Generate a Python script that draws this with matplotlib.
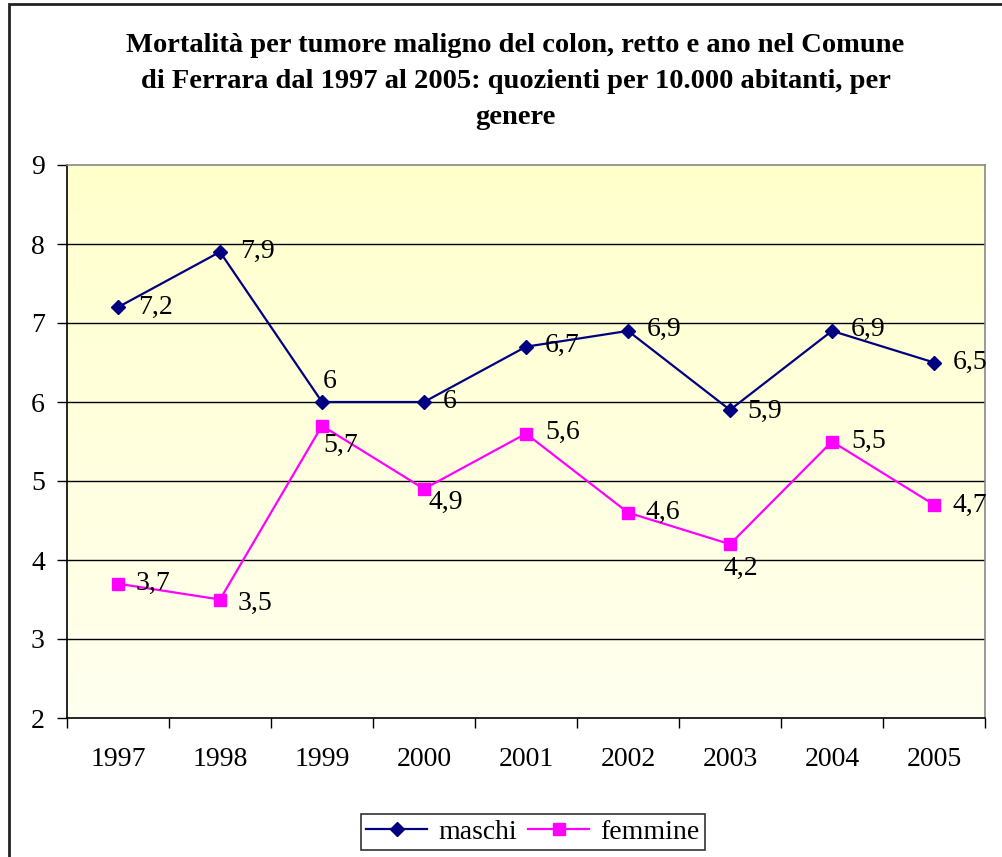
import matplotlib.pyplot as plt
import numpy as np
from matplotlib.patches import Rectangle

anni = ['1997', '1998', '1999', '2000', '2001', '2002', '2003', '2004', '2005']
maschi = [7.2, 7.9, 6.0, 6.0, 6.7, 6.9, 5.9, 6.9, 6.5]
femmine = [3.7, 3.5, 5.7, 4.9, 5.6, 4.6, 4.2, 5.5, 4.7]
lab_maschi = ['7,2', '7,9', '6', '6', '6,7', '6,9', '5,9', '6,9', '6,5']
lab_femmine = ['3,7', '3,5', '5,7', '4,9', '5,6', '4,6', '4,2', '5,5', '4,7']

# label offsets in pixels (dx, dy)
off_maschi = [(20, 0), (20, 0), (1, 21), (19, 0), (19, 1), (19, 1), (17, -2), (19, 1), (19, 0)]
off_femmine = [(18, 0), (18, -4), (1, -20), (5, -14), (19, 1), (18, 0), (-6, -24), (19, 0), (19, -1)]

plt.rcParams['font.family'] = ['Liberation Serif', 'DejaVu Serif']
FS = 20

fig = plt.figure(figsize=(10.03, 8.57), dpi=100)
ax = fig.add_axes([67 / 1003, 1 - 718 / 857, 918 / 1003, 553 / 857])

x = np.arange(len(anni))
ax.set_xlim(-0.5, len(anni) - 0.5)

# gradient background, yellow at top, almost white at bottom
grad = np.linspace(0, 1, 256).reshape(-1, 1)
top = np.array([1.0, 1.0, 0.80])
bot = np.array([1.0, 1.0, 0.94])
img = top * (1 - grad[..., None]) + bot * grad[..., None]
ax.imshow(img, extent=[-0.5, len(anni) - 0.5, 2, 9], origin='upper', aspect='auto', zorder=0)
ax.set_ylim(2, 9)

for yv in range(3, 9):
    ax.axhline(yv, color='black', linewidth=1, zorder=1)

ax.plot(x, maschi, color='#000080', marker='D', markersize=7, linewidth=1.6, zorder=3, label='maschi')
ax.plot(x, femmine, color='#FF00FF', marker='s', markersize=8, linewidth=1.6, zorder=3, label='femmine')

for i in range(len(anni)):
    ax.annotate(lab_maschi[i], (x[i], maschi[i]), xytext=off_maschi[i], textcoords='offset pixels',
                ha='left', va='center', fontsize=FS, zorder=4)
    ax.annotate(lab_femmine[i], (x[i], femmine[i]), xytext=off_femmine[i], textcoords='offset pixels',
                ha='left', va='center', fontsize=FS, zorder=4)

ax.set_xticks(np.arange(len(anni) + 1) - 0.5)
ax.set_xticklabels([])
ax.set_xticks(x, minor=True)
ax.set_xticklabels(anni, minor=True, fontsize=FS)
ax.tick_params(axis='x', which='minor', length=0, pad=21)
ax.tick_params(axis='x', which='major', length=7, direction='out', width=1)
ax.set_yticks(range(2, 10))
ax.tick_params(axis='y', labelsize=FS, length=7, width=1, pad=9)

ax.spines['left'].set_color('black')
ax.spines['bottom'].set_color('black')
ax.spines['top'].set_color('#888888')
ax.spines['right'].set_color('#888888')
for s in ax.spines.values():
    s.set_linewidth(1.2)

title_lines = ['Mortalità per tumore maligno del colon, retto e ano nel Comune',
               'di Ferrara dal 1997 al 2005: quozienti per 10.000 abitanti, per',
               'genere']
for ln, ypix in zip(title_lines, [45, 82, 118]):
    fig.text(0.514, 1 - ypix / 857, ln, ha='center', va='center', fontsize=20.5, fontweight='bold')

leg = fig.legend(loc='center', bbox_to_anchor=(533 / 1003, 1 - 832 / 857), ncol=2, fontsize=FS,
                 frameon=True, fancybox=False, edgecolor='black', handlelength=2.2,
                 columnspacing=0.4, handletextpad=0.4, borderpad=0.2)
leg.get_frame().set_linewidth(1.2)

fig.patches.append(Rectangle((9 / 1003, -0.1), 1.2, 1.1 - 4 / 857, transform=fig.transFigure,
                             fill=False, edgecolor='#222222', linewidth=2))

fig.savefig('out.png', dpi=100)
